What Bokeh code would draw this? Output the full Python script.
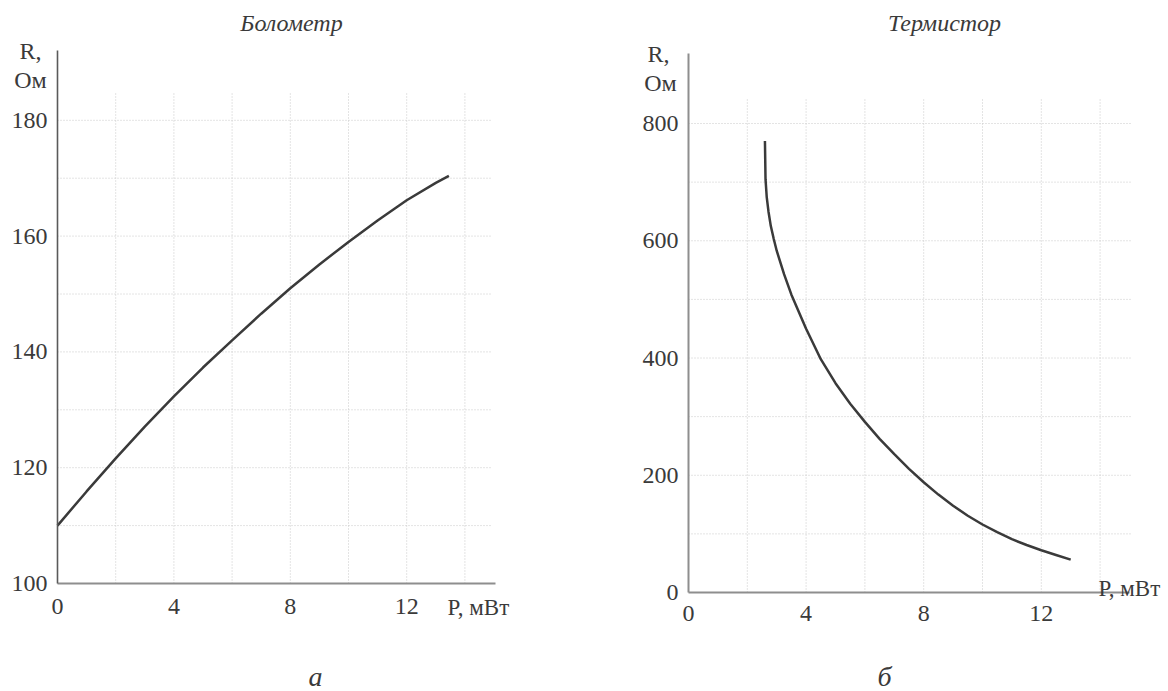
from bokeh.plotting import figure
from bokeh.layouts import row
from bokeh.models import Range1d, FixedTicker, Label
from bokeh.embed import file_html
from bokeh.resources import INLINE

# ---------------- data ----------------
# Bolometer (left)
bolo_p = [0, 1, 2, 3, 4, 5, 6, 7, 8, 9, 10, 11, 12, 13, 13.45]
bolo_r = [110, 115.9, 121.6, 127.1, 132.3, 137.3, 142.0, 146.6, 151.0, 155.1, 159.0, 162.7, 166.2, 169.2, 170.4]
bolo_xticks = [0, 4, 8, 12]
bolo_yticks = [100, 120, 140, 160, 180]
bolo_xgrid = [2, 4, 6, 8, 10, 12, 14]
bolo_ygrid = [110, 120, 130, 140, 150, 160, 170, 180]

# Thermistor (right)
term_p = [2.6, 2.62, 2.66, 2.72, 2.8, 2.9, 3.0, 3.25, 3.5, 4.0, 4.5, 5.0, 5.5, 6.0, 6.5, 7.0, 7.5,
          8.0, 8.5, 9.0, 9.5, 10.0, 10.5, 11.0, 11.5, 12.0, 12.5, 13.0]
term_r = [770, 705, 675, 650, 625, 603, 583, 543, 508, 450, 398, 357, 322, 291, 262, 236, 211,
          188, 167, 148, 131, 116, 103, 91, 81, 72, 64, 56]
term_xticks = [0, 4, 8, 12]
term_yticks = [0, 200, 400, 600, 800]
term_xgrid = [2, 4, 6, 8, 10, 12, 14]
term_ygrid = [100, 200, 300, 400, 500, 600, 700, 800]

SERIF = "Liberation Serif"
TXT = "#3a3a3a"
GRID = "#c8c8c8"
W, H = 584, 691


def make_fig(x0_px, xk, y0_px, yk, ymin):
    """Frame covers the whole canvas; axes are fixed inside it."""
    xr = Range1d(-x0_px / xk, (W - x0_px) / xk)
    yr = Range1d(ymin - (H - y0_px) / yk, ymin + y0_px / yk)
    p = figure(width=W, height=H, x_range=xr, y_range=yr,
               output_backend="svg", toolbar_location=None,
               min_border=0, min_border_left=0, min_border_right=0,
               min_border_top=0, min_border_bottom=0)
    p.outline_line_color = None
    p.background_fill_color = "white"
    p.border_fill_color = "white"
    p.xgrid.visible = False
    p.ygrid.visible = False
    for ax in (p.xaxis[0], p.yaxis[0]):
        ax.major_tick_line_color = None
        ax.minor_tick_line_color = None
        ax.major_tick_out = 0
        ax.major_tick_in = 0
        ax.minor_tick_out = 0
        ax.minor_tick_in = 0
        ax.major_label_text_font = SERIF
        ax.major_label_text_font_size = "24px"
        ax.major_label_text_color = TXT
        ax.axis_line_color = "#8e8e8e"
        ax.axis_line_width = 2
    p.yaxis.major_label_standoff = 10
    return p


def lab(p, x, y, text, size="24px", style="normal", align="center", baseline="middle"):
    p.add_layout(Label(x=x, y=y, text=text, text_font=SERIF, text_font_size=size,
                       text_font_style=style, text_color=TXT, text_align=align,
                       text_baseline=baseline))


# ---------------- left: Болометр ----------------
LX0, LXK, LY0, LYK = 57, 29.1, 583, 5.79
lx = lambda px: (px - LX0) / LXK
ly = lambda py: 100 + (LY0 - py) / LYK

p1 = make_fig(LX0, LXK, LY0, LYK, 100)
p1.xaxis.fixed_location = 100
p1.yaxis.fixed_location = 0
p1.xaxis.bounds = (0, lx(495))
p1.yaxis.bounds = (100, ly(50))
p1.xaxis.ticker = FixedTicker(ticks=bolo_xticks)
p1.yaxis.ticker = FixedTicker(ticks=bolo_yticks)
p1.xaxis.major_label_standoff = 15
p1.yaxis.axis_line_color = "#5a5a5a"
p1.yaxis.axis_line_width = 1.6
# grid
p1.segment(x0=bolo_xgrid, y0=[100] * len(bolo_xgrid), x1=bolo_xgrid, y1=[ly(92)] * len(bolo_xgrid),
           line_color=GRID, line_dash="1 2", line_width=1)
p1.segment(x0=[0] * len(bolo_ygrid), y0=bolo_ygrid, x1=[lx(490)] * len(bolo_ygrid), y1=bolo_ygrid,
           line_color=GRID, line_dash="1 2", line_width=1)
p1.line(bolo_p, bolo_r, line_color="#3a3a3a", line_width=2.5)
lab(p1, lx(291), ly(22), "Болометр", style="italic")
lab(p1, lx(30), ly(50), "R,")
lab(p1, lx(30), ly(79), "Ом")
lab(p1, lx(447), ly(607), "P, мВт", size="23px", align="left")
lab(p1, lx(315), ly(676), "а", size="28px", style="italic")

# ---------------- right: Термистор ----------------
RX0, RXK, RY0, RYK = 688 - W, 29.4, 592, 0.58625
rx = lambda px: (px - W - RX0) / RXK
ry = lambda py: (RY0 - py) / RYK

p2 = make_fig(RX0, RXK, RY0, RYK, 0)
p2.xaxis.fixed_location = 0
p2.yaxis.fixed_location = 0
p2.xaxis.bounds = (0, rx(1129))
p2.yaxis.bounds = (0, ry(53))
p2.xaxis.ticker = FixedTicker(ticks=term_xticks)
p2.yaxis.ticker = FixedTicker(ticks=term_yticks)
p2.xaxis.major_label_standoff = 13
p2.segment(x0=term_xgrid, y0=[0] * len(term_xgrid), x1=term_xgrid, y1=[ry(97)] * len(term_xgrid),
           line_color=GRID, line_dash="1 2", line_width=1)
p2.segment(x0=[0] * len(term_ygrid), y0=term_ygrid, x1=[rx(1130)] * len(term_ygrid), y1=term_ygrid,
           line_color=GRID, line_dash="1 2", line_width=1)
p2.line(term_p, term_r, line_color="#3a3a3a", line_width=2.5)
lab(p2, rx(944), ry(22), "Термистор", style="italic")
lab(p2, rx(658), ry(53), "R,")
lab(p2, rx(660), ry(82), "Ом")
lab(p2, rx(1098), ry(588), "P, мВт", size="23px", align="left")
lab(p2, rx(884), ry(676), "б", size="28px", style="italic")

layout = row(p1, p2)
open("out.html", "w").write(file_html(layout, INLINE))
